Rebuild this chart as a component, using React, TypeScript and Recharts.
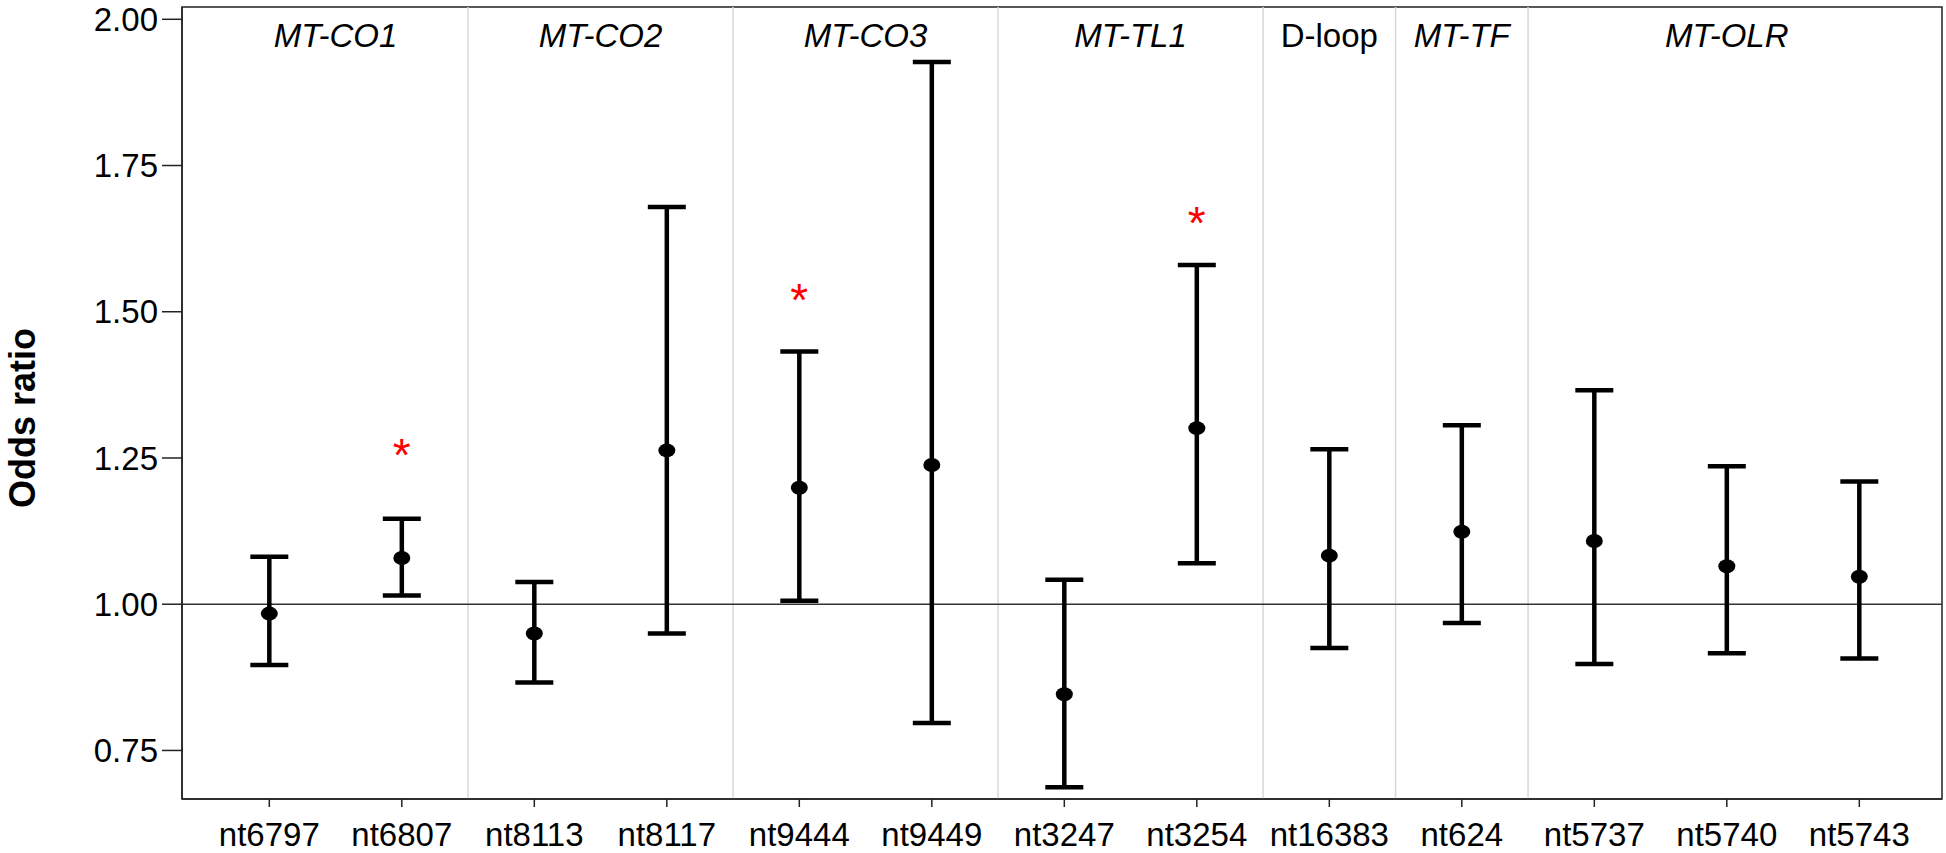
import React from 'react';
import {ComposedChart, Scatter, ErrorBar, XAxis, YAxis, ReferenceLine, ReferenceArea} from 'recharts';

// SNPs along the x axis, grouped by gene region
const snps = ['nt6797', 'nt6807', 'nt8113', 'nt8117', 'nt9444', 'nt9449', 'nt3247', 'nt3254', 'nt16383', 'nt624', 'nt5737', 'nt5740', 'nt5743'];
const oddsRatio = [0.984, 1.079, 0.950, 1.263, 1.199, 1.238, 0.846, 1.301, 1.083, 1.124, 1.108, 1.065, 1.047];
const ciLower = [0.896, 1.015, 0.866, 0.950, 1.006, 0.797, 0.687, 1.070, 0.925, 0.968, 0.898, 0.916, 0.907];
const ciUpper = [1.081, 1.146, 1.038, 1.679, 1.432, 1.927, 1.042, 1.580, 1.265, 1.306, 1.366, 1.236, 1.210];

// significant SNPs and the height of their asterisk
const significant = ['nt6807', 'nt9444', 'nt3254'];
const starLevel = [1.266, 1.531, 1.662];

const genes = ['MT-CO1', 'MT-CO2', 'MT-CO3', 'MT-TL1', 'D-loop', 'MT-TF', 'MT-OLR'];
const geneFirst = [0, 2, 4, 6, 8, 9, 10];
const geneLast = [1, 3, 5, 7, 8, 9, 12];
const italicGene = [true, true, true, true, false, true, true];

const yTicks = [0.75, 1.0, 1.25, 1.5, 1.75, 2.0];
const X_DOMAIN: [number, number] = [-0.659, 12.624];
const Y_DOMAIN: [number, number] = [0.667, 2.021];

const FONT = '"Liberation Sans", Arial, Helvetica, sans-serif';

const chartData = snps.map((name, i) => ({
    x: i,
    name,
    or: oddsRatio[i],
    err: [oddsRatio[i] - ciLower[i], ciUpper[i] - oddsRatio[i]],
}));

const starData = significant.map((s, k) => ({x: snps.indexOf(s), star: starLevel[k]}));

const Dot = ({cx, cy}: any) => <ellipse cx={cx} cy={cy} rx={8.5} ry={7} fill="#000"/>;

const Star = ({cx, cy}: any) => (
    <text x={cx} y={cy + 22} textAnchor="middle" fill="#ff0000" fontSize={46} fontFamily={FONT}>*</text>
);

const GeneLabel = ({viewBox, value, italic}: any) => (
    <text x={viewBox.x} y={viewBox.y + 40} textAnchor="middle" fill="#000" fontSize={33}
          fontFamily={FONT} fontStyle={italic ? 'italic' : 'normal'}>
        {value}
    </text>
);

const YTitle = () => (
    <text x={35} y={418} transform="rotate(-90, 35, 418)" textAnchor="middle" fontSize={36}
          fontWeight="bold" fontFamily={FONT} fill="#000">
        Odds ratio
    </text>
);

export default function App() {
    return (
        <div style={{position: 'absolute', left: 0, top: 0, background: '#fff'}}>
            <ComposedChart width={1946} height={853} margin={{top: 7, right: 4, bottom: 0, left: 0}}>
                <XAxis
                    type="number"
                    dataKey="x"
                    domain={X_DOMAIN}
                    allowDataOverflow
                    ticks={snps.map((_, i) => i)}
                    tickFormatter={(i: number) => snps[i]}
                    interval={0}
                    height={54}
                    tickSize={8}
                    tickMargin={16}
                    stroke="#222"
                    strokeWidth={1.5}
                    tick={{fill: '#000', fontSize: 33, fontFamily: FONT}}
                />
                <YAxis
                    type="number"
                    domain={Y_DOMAIN}
                    allowDataOverflow
                    ticks={yTicks}
                    tickFormatter={(v: number) => v.toFixed(2)}
                    width={182}
                    tickSize={20}
                    tickMargin={4}
                    stroke="#222"
                    strokeWidth={1.5}
                    tick={{fill: '#000', fontSize: 33, fontFamily: FONT}}
                    label={<YTitle/>}
                />
                <ReferenceArea x1={X_DOMAIN[0]} x2={X_DOMAIN[1]} y1={Y_DOMAIN[0]} y2={Y_DOMAIN[1]}
                               fill="none" stroke="#222" strokeWidth={1.5} fillOpacity={0}/>
                {geneFirst.slice(1).map(f => (
                    <ReferenceLine key={`sep-${f}`} x={f - 0.5} stroke="#d8d8d8" strokeWidth={1.5}/>
                ))}
                {genes.map((g, k) => (
                    <ReferenceLine key={g} x={(geneFirst[k] + geneLast[k]) / 2} stroke="none"
                                   label={<GeneLabel value={g} italic={italicGene[k]}/>}/>
                ))}
                <ReferenceLine y={1} stroke="#333" strokeWidth={1.5}/>
                <Scatter data={chartData} dataKey="or" shape={<Dot/>} isAnimationActive={false}>
                    <ErrorBar dataKey="err" direction="y" width={19} strokeWidth={4.5} stroke="#000"
                              isAnimationActive={false}/>
                </Scatter>
                <Scatter data={starData} dataKey="star" shape={<Star/>} isAnimationActive={false}/>
            </ComposedChart>
        </div>
    );
}
